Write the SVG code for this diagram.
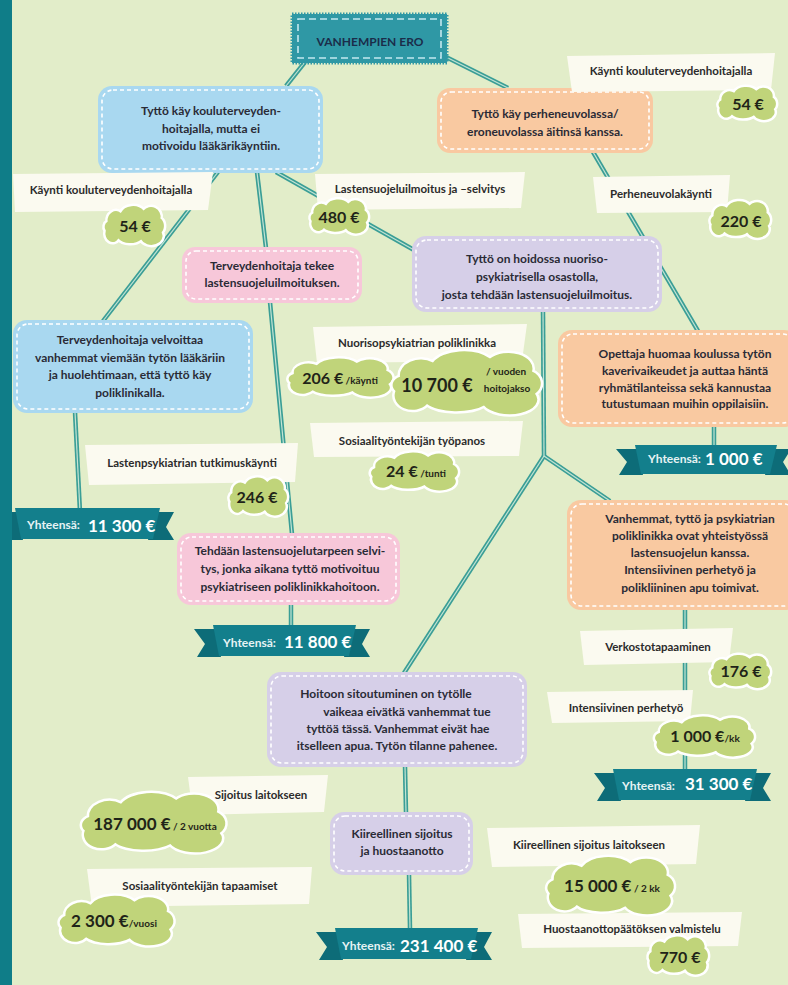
<svg xmlns="http://www.w3.org/2000/svg" width="788" height="985" viewBox="0 0 788 985">
<style>
text{font-family:Lato,"Liberation Sans",sans-serif;font-weight:700;fill:#2a2b36}
.nt{font-size:12px;text-anchor:middle}
.lt{font-size:11.5px;text-anchor:middle;fill:#2b2b2b}
.bv{font-size:16px;fill:#1f2418}
.bu{font-size:10px;fill:#1f2418}
.rs{font-size:12px;fill:#e6f3f4}
.rb{font-size:17px;fill:#ffffff}
.dash{fill:none;stroke:#ffffff;stroke-width:1.6;stroke-dasharray:4 3}
.blue{fill:#a9d8f0}
.orange{fill:#f9c9a1}
.pink{fill:#f7c7d9}
.purple{fill:#d6cfe8}
.lab{fill:#fbfaf0}
.halo{fill:#ffffff;stroke:#ffffff;stroke-width:5}
.cl{fill:#c0d47a}
.cw{fill:none;stroke:#3a9e96;stroke-width:4.5}
.ci{fill:none;stroke:#c4e4d3;stroke-width:1.2}
.band{fill:#137f8c}
.tail{fill:#0d6c78}
</style>
<defs>
<path id="cloud" vector-effect="non-scaling-stroke" d="M-44 -4 A14 12 0 0 1 -22 -15 A22 14 0 0 1 16 -18 A16 12 0 0 1 44 -8 A10 10 0 0 1 46 9 A18 11 0 0 1 12 18 A22 10 0 0 1 -26 17 A12 11 0 0 1 -47 7 A8 7 0 0 1 -44 -4 Z"/>
<path id="c1" d="M305 62 L286 86"/>
<path id="c2" d="M446 57 L508 88"/>
<path id="c3" d="M218 172 L103 321"/>
<path id="c4" d="M257 172 L266 248"/>
<path id="c5" d="M270 302 L292 534"/>
<path id="c6" d="M276 172 L414 250"/>
<path id="c7" d="M593 152 L698 331"/>
<path id="c8" d="M543 311 L544 456"/>
<path id="c9" d="M544 456 L404 673"/>
<path id="c10" d="M544 456 L610 501"/>
<path id="c11" d="M75 412 L80 512"/>
<path id="c12" d="M291 604 L291 626"/>
<path id="c13" d="M714 426 L714 446"/>
<path id="c14" d="M685 609 L685 770"/>
<path id="c15" d="M405 766 L406 813"/>
<path id="c16" d="M409 874 L410 929"/>
</defs>

<rect x="0" y="0" width="788" height="985" fill="#e2edc9"/>

<g id="connectors">
<g class="cw"><use href="#c1"/><use href="#c2"/><use href="#c3"/><use href="#c4"/><use href="#c5"/><use href="#c6"/><use href="#c7"/><use href="#c8"/><use href="#c9"/><use href="#c10"/><use href="#c11"/><use href="#c12"/><use href="#c13"/><use href="#c14"/><use href="#c15"/><use href="#c16"/></g>
<g class="ci"><use href="#c1"/><use href="#c2"/><use href="#c3"/><use href="#c4"/><use href="#c5"/><use href="#c6"/><use href="#c7"/><use href="#c8"/><use href="#c9"/><use href="#c10"/><use href="#c11"/><use href="#c12"/><use href="#c13"/><use href="#c14"/><use href="#c15"/><use href="#c16"/></g>
</g>

<g id="n-vanhempien-ero">
<rect x="292" y="14" width="155" height="49" fill="#2f98a5" stroke="#2f98a5" stroke-width="3" stroke-dasharray="1.5 1.5"/>
<rect x="298" y="19" width="143" height="39" fill="none" stroke="#c4e8ef" stroke-width="1.6" stroke-dasharray="7 4"/>
<text x="370" y="46" class="nt" style="fill:#1b2d4a">VANHEMPIEN ERO</text>
</g>

<g id="n-kouluterveydenhoitaja">
<rect x="98" y="86" width="225" height="87" rx="14" class="blue"/>
<rect x="102" y="90" width="217" height="79" rx="11" class="dash"/>
<text class="nt"><tspan x="211" y="115">Tyttö käy kouluterveyden-</tspan><tspan x="211" y="133">hoitajalla, mutta ei</tspan><tspan x="211" y="150">motivoidu lääkärikäyntiin.</tspan></text>
</g>

<g id="n-perheneuvola">
<rect x="437" y="88" width="216" height="65" rx="13" class="orange"/>
<rect x="441" y="92" width="208" height="57" rx="10" class="dash"/>
<text class="nt"><tspan x="545" y="118">Tyttö käy perheneuvolassa/</tspan><tspan x="545" y="136">eroneuvolassa äitinsä kanssa.</tspan></text>
</g>

<g id="n-lastensuojeluilmoitus">
<rect x="182" y="247" width="180" height="56" rx="13" class="pink"/>
<rect x="186" y="251" width="172" height="48" rx="10" class="dash"/>
<text class="nt"><tspan x="272" y="270">Terveydenhoitaja tekee</tspan><tspan x="272" y="287">lastensuojeluilmoituksen.</tspan></text>
</g>

<g id="n-nuorisopsykiatria">
<rect x="412" y="236" width="250" height="76" rx="14" class="purple"/>
<rect x="416" y="240" width="242" height="68" rx="11" class="dash"/>
<text class="nt"><tspan x="537" y="263">Tyttö on hoidossa nuoriso-</tspan><tspan x="537" y="281">psykiatrisella osastolla,</tspan><tspan x="537" y="299">josta tehdään lastensuojeluilmoitus.</tspan></text>
</g>

<g id="n-velvoittaa">
<rect x="13" y="320" width="240" height="93" rx="14" class="blue"/>
<rect x="17" y="324" width="232" height="85" rx="11" class="dash"/>
<text class="nt"><tspan x="130" y="344">Terveydenhoitaja velvoittaa</tspan><tspan x="130" y="362">vanhemmat viemään tytön lääkäriin</tspan><tspan x="130" y="379">ja huolehtimaan, että tyttö käy</tspan><tspan x="130" y="397">poliklinikalla.</tspan></text>
</g>

<g id="n-opettaja">
<rect x="558" y="330" width="240" height="97" rx="14" class="orange"/>
<rect x="562" y="334" width="232" height="89" rx="11" class="dash"/>
<text class="nt"><tspan x="685" y="358">Opettaja huomaa koulussa tytön</tspan><tspan x="685" y="375">kaverivaikeudet ja auttaa häntä</tspan><tspan x="685" y="392">ryhmätilanteissa sekä kannustaa</tspan><tspan x="685" y="408">tutustumaan muihin oppilaisiin.</tspan></text>
</g>

<g id="n-selvitys">
<rect x="177" y="533" width="223" height="72" rx="14" class="pink"/>
<rect x="181" y="537" width="215" height="64" rx="11" class="dash"/>
<text class="nt"><tspan x="290" y="555">Tehdään lastensuojelutarpeen selvi-</tspan><tspan x="290" y="573">tys, jonka aikana tyttö motivoituu</tspan><tspan x="290" y="591">psykiatriseen poliklinikkahoitoon.</tspan></text>
</g>

<g id="n-yhteistyo">
<rect x="567" y="500" width="232" height="110" rx="14" class="orange"/>
<rect x="571" y="504" width="224" height="102" rx="11" class="dash"/>
<text class="nt"><tspan x="690" y="523">Vanhemmat, tyttö ja psykiatrian</tspan><tspan x="690" y="540">poliklinikka ovat yhteistyössä</tspan><tspan x="690" y="557">lastensuojelun kanssa.</tspan><tspan x="690" y="574">Intensiivinen perhetyö ja</tspan><tspan x="690" y="592">polikliininen apu toimivat.</tspan></text>
</g>

<g id="n-hoitoon-sitoutuminen">
<rect x="267" y="672" width="260" height="95" rx="14" class="purple"/>
<rect x="271" y="676" width="252" height="87" rx="11" class="dash"/>
<text class="nt"><tspan x="386" y="698">Hoitoon sitoutuminen on tytölle</tspan><tspan x="407" y="716">vaikeaa eivätkä vanhemmat tue</tspan><tspan x="398" y="733">tyttöä tässä. Vanhemmat eivät hae</tspan><tspan x="397" y="750">itselleen apua. Tytön tilanne pahenee.</tspan></text>
</g>

<g id="n-huostaanotto">
<rect x="330" y="812" width="143" height="63" rx="14" class="purple"/>
<rect x="334" y="816" width="135" height="55" rx="11" class="dash"/>
<text class="nt"><tspan x="402" y="838">Kiireellinen sijoitus</tspan><tspan x="402" y="855">ja huostaanotto</tspan></text>
</g>

<g id="labels">
<g id="l-kaynti-oikea"><polygon class="lab" points="567,56 775,53 771,90 572,92"/><text x="671" y="75" class="lt">Käynti kouluterveydenhoitajalla</text></g>
<g id="l-kaynti-vasen"><polygon class="lab" points="13,174 213,172 208,210 15,212"/><text x="111" y="194" class="lt">Käynti kouluterveydenhoitajalla</text></g>
<g id="l-lastensuojelu"><polygon class="lab" points="315,174 525,172 521,208 318,210"/><text x="420" y="193" class="lt">Lastensuojeluilmoitus ja –selvitys</text></g>
<g id="l-perheneuvola"><polygon class="lab" points="593,177 730,175 727,212 597,213"/><text x="661" y="198" class="lt">Perheneuvolakäynti</text></g>
<g id="l-nuorisopsyk"><polygon class="lab" points="313,327 527,324 522,361 317,363"/><text x="417" y="347" class="lt">Nuorisopsykiatrian poliklinikka</text></g>
<g id="l-tyopanos"><polygon class="lab" points="310,423 523,421 519,456 314,457"/><text x="412" y="445" class="lt">Sosiaalityöntekijän työpanos</text></g>
<g id="l-tutkimus"><polygon class="lab" points="85,445 298,443 295,482 89,485"/><text x="192" y="467" class="lt">Lastenpsykiatrian tutkimuskäynti</text></g>
<g id="l-verkosto"><polygon class="lab" points="580,631 733,628 729,662 584,665"/><text x="658" y="651" class="lt">Verkostotapaaminen</text></g>
<g id="l-perhetyo"><polygon class="lab" points="547,692 693,690 690,721 552,723"/><text x="626" y="712" class="lt">Intensiivinen perhetyö</text></g>
<g id="l-sijoitus"><polygon class="lab" points="188,777 328,775 324,812 193,815"/><text x="261" y="799" class="lt">Sijoitus laitokseen</text></g>
<g id="l-tapaamiset"><polygon class="lab" points="87,869 312,867 309,904 92,907"/><text x="200" y="890" class="lt">Sosiaalityöntekijän tapaamiset</text></g>
<g id="l-kiireellinen"><polygon class="lab" points="487,828 700,825 696,864 492,867"/><text x="589" y="849" class="lt">Kiireellinen sijoitus laitokseen</text></g>
<g id="l-valmistelu"><polygon class="lab" points="518,914 742,912 738,946 522,948"/><text x="632" y="933" class="lt">Huostaanottopäätöksen valmistelu</text></g>
</g>

<g id="badges">
<g id="b-54a"><use href="#cloud" class="halo" transform="translate(747,103) scale(0.58,0.68)"/><use href="#cloud" class="cl" transform="translate(747,103) scale(0.58,0.68)"/><text x="748" y="110" class="bv" text-anchor="middle">54 €</text></g>
<g id="b-54b"><use href="#cloud" class="halo" transform="translate(134,225) scale(0.6,0.8)"/><use href="#cloud" class="cl" transform="translate(134,225) scale(0.6,0.8)"/><text x="135" y="232" class="bv" text-anchor="middle">54 €</text></g>
<g id="b-480"><use href="#cloud" class="halo" transform="translate(339,216) scale(0.58,0.7)"/><use href="#cloud" class="cl" transform="translate(339,216) scale(0.58,0.7)"/><text x="339" y="223" class="bv" text-anchor="middle">480 €</text></g>
<g id="b-220"><use href="#cloud" class="halo" transform="translate(740,219) scale(0.6,0.75)"/><use href="#cloud" class="cl" transform="translate(740,219) scale(0.6,0.75)"/><text x="741" y="227" class="bv" text-anchor="middle">220 €</text></g>
<g id="b-206"><use href="#cloud" class="halo" transform="translate(340,377) scale(1.05,0.78)"/><use href="#cloud" class="cl" transform="translate(340,377) scale(1.05,0.78)"/><text x="340" y="384" text-anchor="middle"><tspan class="bv">206 €</tspan><tspan class="bu"> /käynti</tspan></text></g>
<g id="b-10700"><use href="#cloud" class="halo" transform="translate(466,382) scale(1.5,1.3)"/><use href="#cloud" class="cl" transform="translate(466,382) scale(1.5,1.3)"/><text x="437" y="392" text-anchor="middle" style="font-size:18px;fill:#1f2418">10 700 €</text><text x="506" y="375" class="bu" text-anchor="middle">/ vuoden</text><text x="507" y="392" class="bu" text-anchor="middle">hoitojakso</text></g>
<g id="b-24"><use href="#cloud" class="halo" transform="translate(414,471) scale(0.88,0.78)"/><use href="#cloud" class="cl" transform="translate(414,471) scale(0.88,0.78)"/><text x="416" y="477" text-anchor="middle"><tspan class="bv">24 €</tspan><tspan class="bu"> /tunti</tspan></text></g>
<g id="b-246"><use href="#cloud" class="halo" transform="translate(258,496) scale(0.58,0.78)"/><use href="#cloud" class="cl" transform="translate(258,496) scale(0.58,0.78)"/><text x="257" y="503" class="bv" text-anchor="middle">246 €</text></g>
<g id="b-176"><use href="#cloud" class="halo" transform="translate(740,671) scale(0.6,0.68)"/><use href="#cloud" class="cl" transform="translate(740,671) scale(0.6,0.68)"/><text x="741" y="677" class="bv" text-anchor="middle">176 €</text></g>
<g id="b-1000kk"><use href="#cloud" class="halo" transform="translate(704,736) scale(1.0,0.82)"/><use href="#cloud" class="cl" transform="translate(704,736) scale(1.0,0.82)"/><text x="705" y="742" text-anchor="middle"><tspan class="bv">1 000 €</tspan><tspan class="bu">/kk</tspan></text></g>
<g id="b-187000"><use href="#cloud" class="halo" transform="translate(153,822) scale(1.45,1.22)"/><use href="#cloud" class="cl" transform="translate(153,822) scale(1.45,1.22)"/><text x="155" y="830" text-anchor="middle"><tspan class="bv" style="font-size:17px">187 000 €</tspan><tspan class="bu"> / 2 vuotta</tspan></text></g>
<g id="b-2300"><use href="#cloud" class="halo" transform="translate(116,920) scale(1.15,1.02)"/><use href="#cloud" class="cl" transform="translate(116,920) scale(1.15,1.02)"/><text x="114" y="927" text-anchor="middle"><tspan class="bv" style="font-size:17px">2 300 €</tspan><tspan class="bu">/vuosi</tspan></text></g>
<g id="b-15000"><use href="#cloud" class="halo" transform="translate(610,885) scale(1.28,1.18)"/><use href="#cloud" class="cl" transform="translate(610,885) scale(1.28,1.18)"/><text x="612" y="892" text-anchor="middle"><tspan class="bv" style="font-size:17px">15 000 €</tspan><tspan class="bu"> / 2 kk</tspan></text></g>
<g id="b-770"><use href="#cloud" class="halo" transform="translate(678,955) scale(0.6,0.78)"/><use href="#cloud" class="cl" transform="translate(678,955) scale(0.6,0.78)"/><text x="680" y="963" class="bv" text-anchor="middle">770 €</text></g>
</g>

<g id="totals">
<g id="t-11300">
<polygon class="tail" points="-4,512 17,512 23,540 -1,540 7,527"/>
<polygon class="tail" points="155,512 174,512 166,527 174,540 148,540"/>
<polygon class="band" points="15,508 160,508 153,539 21,539"/>
<text x="27" y="529" class="rs">Yhteensä:</text><text x="88" y="532" class="rb">11 300 €</text>
</g>
<g id="t-11800">
<polygon class="tail" points="194,629 215,629 221,657 197,657 205,644"/>
<polygon class="tail" points="351,629 370,629 362,644 370,657 344,657"/>
<polygon class="band" points="213,625 356,625 349,656 219,656"/>
<text x="223" y="647" class="rs">Yhteensä:</text><text x="284" y="648" class="rb">11 800 €</text>
</g>
<g id="t-1000">
<polygon class="tail" points="616,449 637,449 643,475 619,475 627,462"/>
<polygon class="tail" points="772,449 791,449 783,462 791,475 765,475"/>
<polygon class="band" points="635,445 777,445 770,474 641,474"/>
<text x="648" y="463" class="rs">Yhteensä:</text><text x="705" y="465" class="rb">1 000 €</text>
</g>
<g id="t-31300">
<polygon class="tail" points="594,773 615,773 621,801 597,801 605,788"/>
<polygon class="tail" points="752,773 771,773 763,788 771,801 745,801"/>
<polygon class="band" points="613,769 757,769 750,800 619,800"/>
<text x="622" y="790" class="rs">Yhteensä:</text><text x="685" y="790" class="rb">31 300 €</text>
</g>
<g id="t-231400">
<polygon class="tail" points="316,932 337,932 343,960 319,960 327,947"/>
<polygon class="tail" points="473,932 492,932 484,947 492,960 466,960"/>
<polygon class="band" points="335,928 478,928 471,959 341,959"/>
<text x="342" y="950" class="rs">Yhteensä:</text><text x="400" y="952" class="rb">231 400 €</text>
</g>
</g>

<rect x="0" y="0" width="12" height="985" fill="#0f7d88"/>
</svg>
